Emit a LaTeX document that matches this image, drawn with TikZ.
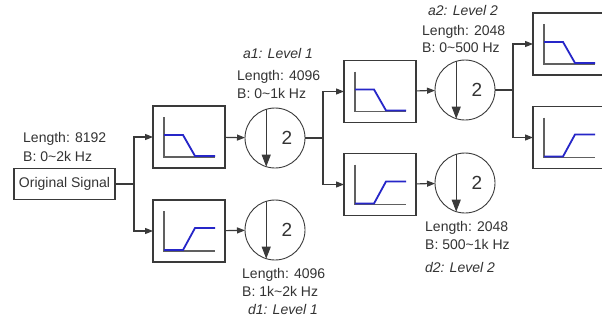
\documentclass[tikz,border=0pt]{standalone}
\usepackage{fontspec}
\setmainfont{Liberation Sans}
\usetikzlibrary{arrows.meta}
\definecolor{txt}{HTML}{333333}
\definecolor{ln}{HTML}{3A3A3A}
\definecolor{ax}{HTML}{606060}
\definecolor{crv}{HTML}{2626C8}
\begin{document}
\begin{tikzpicture}[x=1pt,y=-1pt,
  line/.style={draw=ln, line width=1.1pt},
  arr/.style={line, -{Triangle[length=8pt,width=6pt]}},
  darr/.style={draw=ln, line width=0.9pt, -{Triangle[length=12pt,width=9pt]}},
  box/.style={draw=ln, line width=1.1pt, minimum width=72pt, minimum height=62pt, inner sep=0pt, outer sep=0pt, fill=white},
  ds/.style={circle, draw=ln, line width=0.9pt, minimum size=60pt, inner sep=0pt, outer sep=0pt},
  two/.style={text=txt, font=\fontsize{19}{19}\selectfont, inner sep=0pt},
  lbl/.style={text=txt, font=\fontsize{14}{18}\selectfont, inner sep=0pt, anchor=base west},
  lvl/.style={text=txt, font=\fontsize{14}{18}\selectfont\itshape, inner sep=0pt, anchor=base},
  axis/.style={draw=ax, line width=1.2pt},
  curve/.style={draw=crv, line width=1.8pt},
  lowpass/.pic={\draw[axis] (-25,-20) -- (-25,20) -- (26,20);
                \draw[curve] (-25,-2) -- (-6,-2) -- (6,19) -- (26,19);},
  highpass/.pic={\draw[axis] (-25,-20) -- (-25,20) -- (26,20);
                 \draw[curve] (-25,19) -- (-6,19) -- (6,-3) -- (26,-3);}
]
\useasboundingbox (0,0) rectangle (602,325);
\clip (0,0) rectangle (602,325);

% original signal
\node[draw=ln, line width=1.1pt, minimum width=101pt, minimum height=31pt, inner sep=0pt, outer sep=0pt,
      text=txt, font=\fontsize{14}{18}\selectfont] (orig) at (64.5,184) {Original Signal};
\node[lbl] (l0a) at (23,142) {Length: 8192};
\node[lbl] (l0b) at (23,161) {B: 0\textasciitilde2k Hz};

% level 1
\node[box] (lp1) at (189,137) {};
\pic at (lp1) {lowpass};
\node[box] (hp1) at (189,231) {};
\pic at (hp1) {highpass};
\node[ds] (ds1) at (275,138) {};
\node[two] (t1) at (287,138) {2};
\node[ds] (ds2) at (275,230) {};
\node[two] (t2) at (287,230) {2};

\node[lvl] (a1) at (278,58) {a1: Level 1};
\node[lbl] (l1a) at (237,80) {Length: 4096};
\node[lbl] (l1b) at (237,98) {B: 0\textasciitilde1k Hz};
\node[lbl] (l2a) at (242,278) {Length: 4096};
\node[lbl] (l2b) at (242,296) {B: 1k\textasciitilde2k Hz};
\node[lvl] (d1) at (283,314) {d1: Level 1};

% level 2
\node[box] (lp2) at (380,91.5) {};
\pic at (lp2) {lowpass};
\node[box] (hp2) at (380,184.5) {};
\pic at (hp2) {highpass};
\node[ds] (ds3) at (465,90) {};
\node[two] (t3) at (477,90) {2};
\node[ds] (ds4) at (465,183) {};
\node[two] (t4) at (477,183) {2};

\node[lvl] (a2) at (463,15) {a2: Level 2};
\node[lbl] (l3a) at (422,35) {Length: 2048};
\node[lbl] (l3b) at (422,52) {B: 0\textasciitilde500 Hz};
\node[lbl] (l4a) at (425,231) {Length: 2048};
\node[lbl] (l4b) at (425,249) {B: 500\textasciitilde1k Hz};
\node[lvl] (d2) at (460,272) {d2: Level 2};

% level 3 (cut at the edge)
\node[box] (lp3) at (569,44) {};
\pic at (lp3) {lowpass};
\node[box] (hp3) at (569,137.5) {};
\pic at (hp3) {highpass};

% junctions
\coordinate (j1) at (134,184);
\coordinate (j2) at (323,138);
\coordinate (j3) at (513,90);

% connectors
\draw[line] (orig) -- (j1);
\draw[arr] (j1) |- (lp1.west);
\draw[arr] (j1) |- (hp1.west);
\draw[arr] (lp1) -- (ds1);
\draw[arr] (hp1) -- (ds2);
\draw[line] (ds1) -- (j2);
\draw[arr] (j2) |- (lp2.west);
\draw[arr] (j2) |- (hp2.west);
\draw[arr] (lp2) -- (ds3);
\draw[arr] (hp2) -- (ds4);
\draw[line] (ds3) -- (j3);
\draw[arr] (j3) |- (lp3.west);
\draw[arr] (j3) |- (hp3.west);

% arrows inside the down-samplers
\draw[darr] (ds1.107) -- (ds1.253);
\draw[darr] (ds2.107) -- (ds2.253);
\draw[darr] (ds3.107) -- (ds3.253);
\draw[darr] (ds4.107) -- (ds4.253);
\end{tikzpicture}
\end{document}
